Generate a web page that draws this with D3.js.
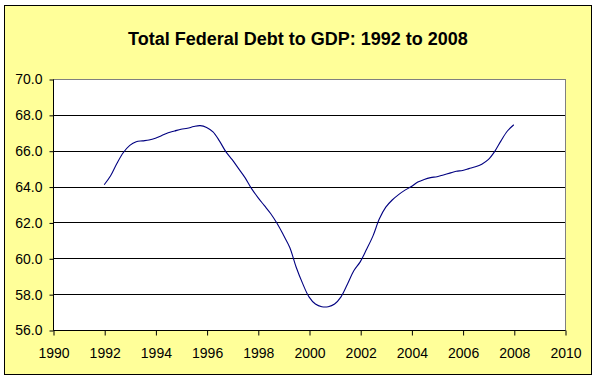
<!DOCTYPE html>
<html>
<head>
<meta charset="utf-8">
<script src="https://cdn.jsdelivr.net/npm/d3@7"></script>
<style>
  html, body { margin: 0; padding: 0; background: #fff; }
  svg { display: block; }
  text { font-family: Arial, "Liberation Sans", sans-serif; }
</style>
</head>
<body>
<div id="chart"></div>
<script>
// ── Total Federal Debt to GDP, 1992–2008 (quarterly) ──

const years = [
    1992.00, 1992.25, 1992.50, 1992.75, 1993.00, 1993.25, 1993.50, 1993.75,
    1994.00, 1994.25, 1994.50, 1994.75, 1995.00, 1995.25, 1995.50, 1995.75,
    1996.00, 1996.25, 1996.50, 1996.75, 1997.00, 1997.25, 1997.50, 1997.75,
    1998.00, 1998.25, 1998.50, 1998.75, 1999.00, 1999.25, 1999.50, 1999.75,
    2000.00, 2000.25, 2000.50, 2000.75, 2001.00, 2001.25, 2001.50, 2001.75,
    2002.00, 2002.25, 2002.50, 2002.75, 2003.00, 2003.25, 2003.50, 2003.75,
    2004.00, 2004.25, 2004.50, 2004.75, 2005.00, 2005.25, 2005.50, 2005.75,
    2006.00, 2006.25, 2006.50, 2006.75, 2007.00, 2007.25, 2007.50, 2007.75,
    2008.00
];

const debtToGdp = [
    64.1, 64.6, 65.3, 65.9, 66.3, 66.5, 66.55, 66.6,
    66.7, 66.85, 67.0, 67.1, 67.2, 67.25, 67.35, 67.4,
    67.3, 67.05, 66.55, 65.95, 65.5, 65.0, 64.5, 63.9,
    63.4, 62.95, 62.5, 61.95, 61.3, 60.6, 59.5, 58.6,
    57.85, 57.45, 57.3, 57.3, 57.45, 57.85, 58.55, 59.3,
    59.8, 60.5, 61.25, 62.2, 62.85, 63.25, 63.55, 63.8,
    64.0, 64.25, 64.4, 64.5, 64.55, 64.65, 64.75, 64.85,
    64.9, 65.0, 65.1, 65.25, 65.5, 65.95, 66.55, 67.1,
    67.45
];

const xTicks = [1990, 1992, 1994, 1996, 1998, 2000, 2002, 2004, 2006, 2008, 2010];
const yTicks = [56, 58, 60, 62, 64, 66, 68, 70];

const title = 'Total Federal Debt to GDP: 1992 to 2008';

const width = 596, height = 384;
const plot = { left: 53, right: 565, top: 79, bottom: 330 };

const svg = d3.select('#chart')
    .append('svg')
    .attr('width', width)
    .attr('height', height);

// Chart frame
svg.append('rect')
    .attr('x', 4.5).attr('y', 5.5)
    .attr('width', 587).attr('height', 369)
    .attr('fill', '#ffff99')
    .attr('stroke', '#000')
    .attr('stroke-width', 1);

svg.append('text')
    .attr('x', 298)
    .attr('y', 45)
    .attr('text-anchor', 'middle')
    .attr('font-size', 18)
    .attr('font-weight', 'bold')
    .text(title);

const x = d3.scaleLinear().domain([1990, 2010]).range([plot.left, plot.right]);
const y = d3.scaleLinear().domain([56, 70]).range([plot.bottom, plot.top]);

// Plot area
svg.append('rect')
    .attr('x', plot.left + 0.5).attr('y', plot.top + 0.5)
    .attr('width', plot.right - plot.left)
    .attr('height', plot.bottom - plot.top)
    .attr('fill', '#fff')
    .attr('stroke', '#808080')
    .attr('stroke-width', 1);

// Gridlines (the 70 line is the grey plot border)
svg.append('g')
    .selectAll('line')
    .data(yTicks.filter(v => v > 56 && v < 70))
    .join('line')
    .attr('x1', plot.left).attr('x2', plot.right)
    .attr('y1', d => Math.round(y(d)) + 0.5)
    .attr('y2', d => Math.round(y(d)) + 0.5)
    .attr('stroke', '#000')
    .attr('stroke-width', 1);

// Axes
const yAxis = svg.append('g')
    .attr('transform', `translate(${plot.left + 0.5},0.5)`)
    .call(d3.axisLeft(y).tickValues(yTicks).tickFormat(d3.format('.1f')).tickSize(4).tickPadding(7));

const xAxis = svg.append('g')
    .attr('transform', `translate(0.5,${plot.bottom + 0.5})`)
    .call(d3.axisBottom(x).tickValues(xTicks).tickFormat(d3.format('d')).tickSize(5).tickPadding(13));

[yAxis, xAxis].forEach(ax => {
    ax.select('.domain').attr('stroke', '#000');
    ax.selectAll('.tick line').attr('stroke', '#000');
    ax.selectAll('.tick text')
        .attr('fill', '#000')
        .attr('font-size', 14)
        .attr('font-family', 'Arial, "Liberation Sans", sans-serif');
});
xAxis.select('.domain').attr('d', `M${plot.left},0H${plot.right}`);
yAxis.select('.domain').attr('d', `M0,${plot.top}V${plot.bottom}`);

// Line
const line = d3.line()
    .x((d, i) => x(years[i]))
    .y(d => y(d))
    .curve(d3.curveCatmullRom);

svg.append('path')
    .datum(debtToGdp)
    .attr('d', line)
    .attr('fill', 'none')
    .attr('stroke', '#000080')
    .attr('stroke-width', 1.1);
</script>
</body>
</html>
